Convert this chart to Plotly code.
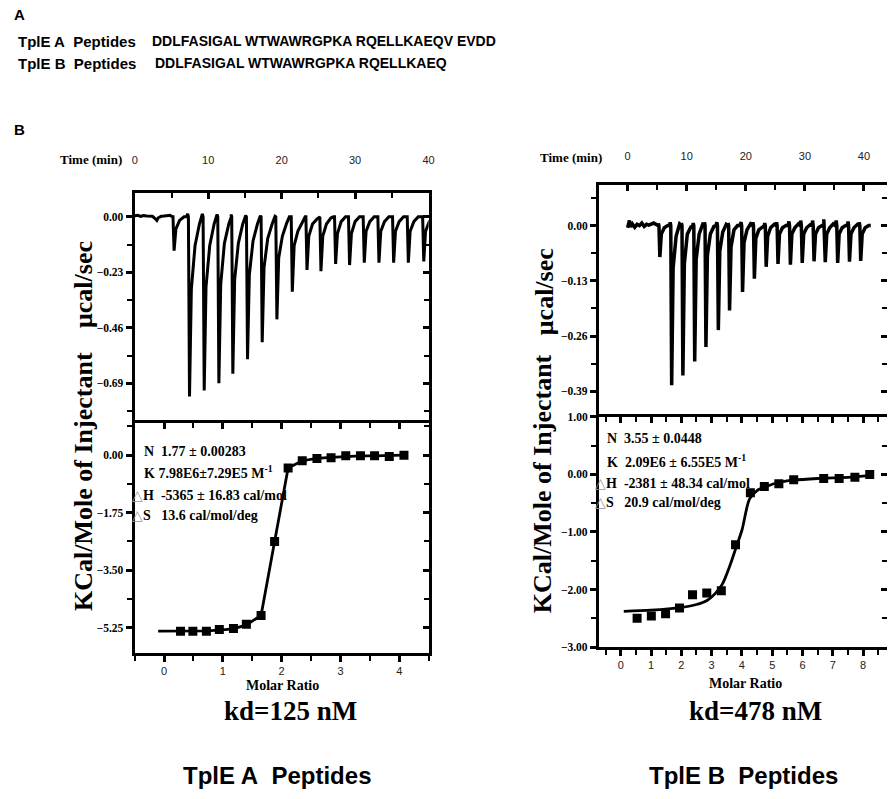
import plotly.graph_objects as go

W, H = 893, 799

# ---------------- data: raw ITC thermograms ----------------
# TplE A
baseA_t = [0.0, 0.4, 0.8, 1.2, 1.6, 2.0, 2.4, 2.8, 3.0, 3.2, 3.6, 4.0, 4.4, 4.8, 5.1]
baseA_v = [0.004, 0.006, 0.002, 0.005, 0.003, 0.004, 0.002, -0.008, -0.015, -0.004, 0.002, 0.003, 0.004, 0.006, 0.0]
injA_t = [5.2, 7.3, 9.3, 11.3, 13.2, 15.2, 17.2, 19.2, 21.3, 23.3, 25.2, 27.2, 29.1, 31.1, 33.1, 35.1, 37.1, 39.2]
injA_pre = [0.0, 0.012, 0.012, 0.01, 0.01, 0.006, 0.004, 0.002, 0.0, 0.0, 0.0, 0.0, 0.0, 0.0, 0.0, 0.0, 0.0, 0.0]
injA_peak = [-0.14, -0.745, -0.72, -0.69, -0.65, -0.59, -0.52, -0.425, -0.31, -0.22, -0.225, -0.195, -0.20, -0.19, -0.19, -0.19, -0.19, -0.185]
recA_1 = [-0.05, -0.30, -0.29, -0.28, -0.26, -0.24, -0.21, -0.17, -0.12, -0.08, -0.08, -0.07, -0.07, -0.06, -0.06, -0.06, -0.06, -0.06]
recA_2 = [-0.015, -0.12, -0.12, -0.11, -0.11, -0.10, -0.09, -0.08, -0.06, -0.03, -0.03, -0.02, -0.02, -0.02, -0.02, -0.02, -0.02, -0.02]
recA_3 = [0.0, -0.03, -0.03, -0.03, -0.03, -0.03, -0.03, -0.025, -0.02, -0.01, -0.005, 0.0, 0.0, 0.0, 0.0, 0.0, 0.0, 0.0]
endA_t = 41.5

# TplE B
baseB_t = [0.0, 0.3, 0.5, 0.8, 1.2, 1.6, 2.0, 2.4, 2.8, 3.2, 3.6, 4.0, 4.4, 4.8, 5.2]
baseB_v = [-0.005, 0.012, -0.003, 0.004, -0.004, 0.003, 0.0, 0.006, -0.002, 0.003, 0.001, 0.004, 0.006, 0.003, 0.0]
injB_t = [5.3, 7.3, 9.2, 11.2, 13.1, 15.2, 17.1, 19.3, 21.3, 23.3, 25.3, 27.4, 29.4, 31.4, 33.3, 35.4, 37.4, 39.3]
injB_pre = [0.005, 0.008, 0.006, 0.006, 0.008, 0.008, 0.006, 0.008, 0.008, 0.006, 0.008, 0.01, 0.012, 0.012, 0.015, 0.012, 0.01, 0.008]
injB_peak = [-0.074, -0.376, -0.353, -0.32, -0.286, -0.246, -0.20, -0.156, -0.125, -0.097, -0.09, -0.092, -0.088, -0.084, -0.086, -0.088, -0.085, -0.083]
recB_1 = [-0.02, -0.10, -0.09, -0.08, -0.07, -0.06, -0.05, -0.04, -0.03, -0.025, -0.02, -0.02, -0.02, -0.02, -0.02, -0.02, -0.02, -0.02]
recB_2 = [-0.005, -0.025, -0.02, -0.02, -0.02, -0.015, -0.01, -0.01, -0.01, -0.005, -0.005, -0.005, -0.005, -0.005, -0.005, -0.005, -0.005, -0.005]
recB_3 = [0.0, 0.004, -0.003, 0.003, -0.002, 0.003, 0.0, 0.004, -0.002, 0.003, 0.0, 0.004, 0.002, 0.0, 0.004, 0.0, 0.003, 0.0]
endB_t = 41.1

# ---------------- data: integrated heats ----------------
molA = [0.28, 0.49, 0.72, 0.94, 1.18, 1.40, 1.65, 1.88, 2.11, 2.35, 2.60, 2.84, 3.09, 3.34, 3.58, 3.83, 4.08]
heatA = [-5.36, -5.36, -5.36, -5.31, -5.28, -5.15, -4.88, -2.63, -0.39, -0.17, -0.10, -0.08, -0.02, -0.02, -0.02, -0.04, 0.0]
fitA_x = [-0.1, 0.28, 0.49, 0.72, 0.94, 1.18, 1.40, 1.65, 1.88, 2.11, 2.35, 2.60, 2.84, 3.09, 3.34, 3.58, 3.83, 4.08]
fitA_y = [-5.36, -5.36, -5.36, -5.35, -5.33, -5.29, -5.17, -4.88, -2.63, -0.39, -0.17, -0.10, -0.07, -0.04, -0.02, -0.02, -0.01, 0.0]

molB = [0.54, 1.01, 1.48, 1.94, 2.37, 2.84, 3.32, 3.79, 4.28, 4.74, 5.22, 5.71, 6.70, 7.21, 7.73, 8.22]
heatB = [-2.50, -2.46, -2.42, -2.32, -2.09, -2.06, -2.02, -1.22, -0.32, -0.21, -0.16, -0.09, -0.07, -0.07, -0.05, 0.0]
fitB_x = [0.1, 1.0, 2.0, 2.5, 2.85, 3.1, 3.35, 3.6, 3.8, 4.0, 4.25, 4.5, 4.8, 5.2, 5.7, 6.5, 7.5, 8.24]
fitB_y = [-2.38, -2.36, -2.31, -2.26, -2.19, -2.08, -1.91, -1.59, -1.28, -0.97, -0.43, -0.28, -0.21, -0.14, -0.10, -0.07, -0.05, -0.02]

# ---------------- text ----------------
seqA = "DDLFASIGAL WTWAWRGPKA RQELLKAEQV EVDD"
seqB = "DDLFASIGAL WTWAWRGPKA RQELLKAEQ"
paramsA = ["N\u00a0\u00a01.77 ± 0.00283", "K 7.98E6±7.29E5 M<sup>-1</sup>",
           "H\u00a0\u00a0-5365 ± 16.83 cal/mol", "S\u00a0\u00a0\u00a013.6 cal/mol/deg"]
paramsB = ["N\u00a0\u00a03.55 ± 0.0448", "K\u00a0\u00a02.09E6 ± 6.55E5 M<sup>-1</sup>",
           "H\u00a0\u00a0-2381 ± 48.34 cal/mol", "S\u00a0\u00a0\u00a020.9 cal/mol/deg"]
kdA, kdB = "kd=125 nM", "kd=478 nM"


def thermogram(bt, bv, it, pre, pk, r1, r2, r3, end_t):
    xs, ys = list(bt), list(bv)
    for i, t in enumerate(it):
        xs += [t - 0.1, t, t + 0.15, t + 0.4, t + 0.9, t + 1.5, t + 1.85]
        ys += [pre[i], 0.0, pk[i], r1[i], r2[i], r3[i], 0.0]
    xs.append(end_t)
    ys.append(0.0)
    return xs, ys


trA_x, trA_y = thermogram(baseA_t, baseA_v, injA_t, injA_pre, injA_peak, recA_1, recA_2, recA_3, endA_t)
trB_x, trB_y = thermogram(baseB_t, baseB_v, injB_t, injB_pre, injB_peak, recB_1, recB_2, recB_3, endB_t)

SERIF = "Liberation Serif, Times New Roman, serif"
SANS = "Liberation Sans, Arial, sans-serif"


def xd(a, b):
    return [a / W, b / W]


def yd(top, bottom):
    return [1 - bottom / H, 1 - top / H]


fig = go.Figure()
fig.add_trace(go.Scatter(x=trA_x, y=trA_y, mode="lines", line=dict(color="black", width=3),
                         xaxis="x", yaxis="y", hoverinfo="skip"))
fig.add_trace(go.Scatter(x=fitA_x, y=fitA_y, mode="lines", line=dict(color="black", width=2.8),
                         xaxis="x2", yaxis="y2", hoverinfo="skip"))
fig.add_trace(go.Scatter(x=molA, y=heatA, mode="markers", marker=dict(symbol="square", size=9, color="black"),
                         xaxis="x2", yaxis="y2"))
fig.add_trace(go.Scatter(x=trB_x, y=trB_y, mode="lines", line=dict(color="black", width=3.5),
                         xaxis="x4", yaxis="y5", hoverinfo="skip"))
fig.add_trace(go.Scatter(x=fitB_x, y=fitB_y, mode="lines", line=dict(color="black", width=2.8, shape="spline", smoothing=0.8),
                         xaxis="x5", yaxis="y7", hoverinfo="skip"))
fig.add_trace(go.Scatter(x=molB, y=heatB, mode="markers", marker=dict(symbol="square", size=9, color="black"),
                         xaxis="x5", yaxis="y7"))
# dummy traces so overlay axes are drawn
for xa, ya in [("x", "y3"), ("x3", "y2"), ("x2", "y4"), ("x4", "y6"), ("x6", "y7"), ("x5", "y8")]:
    fig.add_trace(go.Scatter(x=[None], y=[None], xaxis=xa, yaxis=ya, showlegend=False, hoverinfo="skip"))

base = dict(showline=True, linewidth=3, linecolor="black", showgrid=False, zeroline=False,
            tickcolor="black", tickwidth=2.5, ticklen=6)
yfont = dict(family=SERIF, size=11.5, color="black", weight="bold")
xfont = dict(family=SANS, size=11, color="#222")


def minor(d, direction):
    return dict(dtick=d, ticks=direction, ticklen=5, tickwidth=2.2, tickcolor="black", showgrid=False)


rA_t = [-0.02, 40.02]
rA_top = [-0.853, 0.098]
rA_bot = [-6.03, 0.99]
mA = [-0.5, 4.5]
rB_t = [-4.86, 43.9]
rB_top = [-0.45, 0.095]
rB_bot = [-3.003, 1.003]
mB = [-0.72, 8.79]

fig.update_layout(
    width=W, height=H, autosize=False, margin=dict(l=0, r=0, t=0, b=0),
    paper_bgcolor="white", plot_bgcolor="white", showlegend=False,
    xaxis=dict(base, domain=xd(133, 430), anchor="y", side="top", range=rA_t, tick0=0, dtick=10,
               ticks="inside", tickfont=xfont, minor=minor(5, "inside"), mirror=False, ticklabelstandoff=22),
    yaxis=dict(base, domain=yd(190, 423), anchor="x", range=rA_top, tick0=0, dtick=0.23, tickformat=".2f",
               ticks="outside", tickfont=yfont, minor=minor(0.115, "outside")),
    yaxis3=dict(base, overlaying="y", side="right", anchor="x", range=rA_top, tick0=0, dtick=0.23,
                ticks="inside", showticklabels=False, minor=minor(0.115, "inside")),
    xaxis2=dict(base, domain=xd(133, 430), anchor="y2", side="bottom", range=mA, tick0=0, dtick=1,
                ticks="outside", tickfont=xfont, minor=minor(0.5, "outside")),
    yaxis2=dict(base, domain=yd(423, 657), anchor="x2", range=rA_bot, tick0=0, dtick=1.75, tickformat=".2f",
                ticks="outside", tickfont=yfont, minor=minor(0.875, "outside")),
    xaxis3=dict(base, overlaying="x2", side="top", anchor="y2", range=mA, tick0=0, dtick=1,
                ticks="inside", showticklabels=False, minor=minor(0.5, "inside")),
    yaxis4=dict(base, overlaying="y2", side="right", anchor="x2", range=rA_bot, tick0=0, dtick=1.75,
                ticks="inside", showticklabels=False, minor=minor(0.875, "inside")),
    xaxis4=dict(base, domain=xd(602, 893), anchor="y5", side="top", range=rB_t, tick0=0, dtick=10,
                ticks="inside", tickfont=xfont, minor=minor(5, "inside"), mirror=False, ticklabelstandoff=18),
    yaxis5=dict(base, domain=yd(182, 417), anchor="x4", range=rB_top, tick0=0, dtick=0.13, tickformat=".2f",
                ticks="outside", tickfont=yfont, minor=minor(0.065, "outside")),
    yaxis6=dict(base, overlaying="y5", side="right", anchor="x4", range=rB_top, tick0=0, dtick=0.13,
                ticks="inside", showticklabels=False, showline=False, minor=minor(0.065, "inside")),
    xaxis5=dict(base, domain=xd(602, 893), anchor="y7", side="bottom", range=mB, tick0=0, dtick=1,
                ticks="outside", tickfont=xfont, minor=minor(0.5, "outside")),
    yaxis7=dict(base, domain=yd(417, 651), anchor="x5", range=rB_bot, tick0=0, dtick=1, tickformat=".2f",
                ticks="outside", tickfont=yfont, minor=minor(0.5, "outside")),
    xaxis6=dict(base, overlaying="x5", side="top", anchor="y7", range=mB, tick0=0, dtick=1,
                ticks="inside", showticklabels=False, minor=minor(0.5, "inside")),
    yaxis8=dict(base, overlaying="y7", side="right", anchor="x5", range=rB_bot, tick0=0, dtick=1,
                ticks="inside", showticklabels=False, showline=False, minor=minor(0.5, "inside")),
)


def ann(text, px, py, size, family, xanchor="left", angle=0, weight="bold", color="black"):
    fig.add_annotation(text=text, x=px / W, y=1 - py / H, xref="paper", yref="paper",
                       xanchor=xanchor, yanchor="middle", showarrow=False, textangle=angle,
                       font=dict(family=family, size=size, color=color, weight=weight))


# panel A header
ann("A", 9, 9, 15, SANS)
ann("TplE A\u00a0 Peptides", 13, 36, 15, SANS)
ann(seqA, 148, 36, 14, SANS)
ann("TplE B\u00a0 Peptides", 13, 58, 15, SANS)
ann(seqB, 152, 58, 14, SANS)
ann("B", 9, 125, 15, SANS)

# axis titles
ann("Time (min)", 122, 156, 13, SERIF, xanchor="right")
ann("Time (min)", 607, 154, 13, SERIF, xanchor="right")
ann("\u03bccal/sec", 82, 283, 26, SERIF, xanchor="center", angle=-90)
ann("KCal/Mole of Injectant", 82, 483, 26, SERIF, xanchor="center", angle=-90)
ann("\u03bccal/sec", 547, 290, 26, SERIF, xanchor="center", angle=-90)
ann("KCal/Mole of Injectant", 545, 485, 26, SERIF, xanchor="center", angle=-90)
ann("Molar Ratio", 282, 690, 14, SERIF, xanchor="center")
ann("Molar Ratio", 750, 688, 14, SERIF, xanchor="center")
ann(kdA, 290, 716, 27, SERIF, xanchor="center")
ann(kdB, 760, 716, 27, SERIF, xanchor="center")
ann("TplE A\u00a0\u00a0Peptides", 277, 781, 24, SANS, xanchor="center")
ann("TplE B\u00a0\u00a0Peptides", 748, 781, 24, SANS, xanchor="center")

# fit parameters
tri = "<span style='color:#999999;font-weight:normal'>\u25b3</span>"
ann(paramsA[0], 140, 452, 14, SERIF)
ann(paramsA[1], 140, 473, 14, SERIF)
ann(tri + paramsA[2], 128, 497, 14, SERIF)
ann(tri + paramsA[3], 128, 517, 14, SERIF)
ann(paramsB[0], 608, 439, 14, SERIF)
ann(paramsB[1], 608, 462, 14, SERIF)
ann(tri + paramsB[2], 596, 485, 14, SERIF)
ann(tri + paramsB[3], 596, 504, 14, SERIF)

fig.write_html("out.html", config={"displayModeBar": False},
               post_script="document.body.style.margin='0px';")
